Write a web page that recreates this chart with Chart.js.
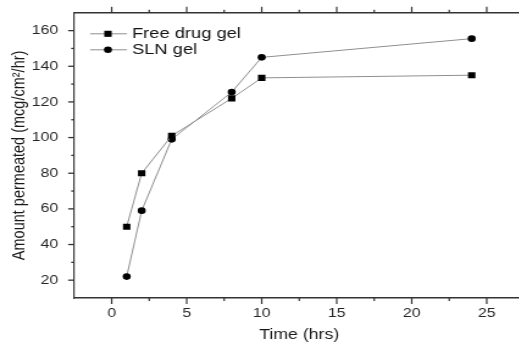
<!DOCTYPE html>
<html><head><meta charset="utf-8">
<script src="https://cdn.jsdelivr.net/npm/chart.js@4"></script>
<style>
html,body{margin:0;padding:0;overflow:hidden;background:#fff;width:519px;height:345px;}
#wrap{position:absolute;left:0;top:0;transform-origin:0 0;transform:scaleX(1.22);}
canvas{display:block;}
</style></head><body>
<div id="wrap"><canvas id="c" width="436" height="345"></canvas></div>
<script>
const timeHrs = [1, 2, 4, 8, 10, 24];
const freeDrugGel = [50, 80, 101, 122, 133.5, 135];
const slnGel = [22, 59, 99, 125.5, 145, 155.5];
const seriesNames = ['Free drug gel', 'SLN gel'];
const xTickLabels = ['0', '5', '10', '15', '20', '25'];
const yTickLabels = ['20', '40', '60', '80', '100', '120', '140', '160'];
const xTitle = 'Time (hrs)';
const yTitle = 'Amount permeated (mcg/cm\u00B2/hr)';

const SX = 1.22;
const FONT = '"Liberation Sans", Arial, sans-serif';

function pts(xs, ys) { return xs.map((x, i) => ({x: x, y: ys[i]})); }

const tickPlugin = {
  id: 'axisTicks',
  afterDraw(chart) {
    const ctx = chart.ctx;
    ctx.save();
    ctx.strokeStyle = '#333';
    ['x', 'xTop'].forEach(id => {
      const s = chart.scales[id];
      ctx.lineWidth = 1.2;
      s.ticks.forEach(t => {
        const px = s.getPixelForValue(t.value);
        if (px <= s.left + 1 || px >= s.right - 1) return;
        const major = xTickLabels.includes(String(t.value));
        const len = major ? 6 : 3;
        ctx.beginPath();
        if (id === 'x') { ctx.moveTo(px, s.top); ctx.lineTo(px, s.top + len); }
        else { ctx.moveTo(px, s.bottom); ctx.lineTo(px, s.bottom - len); }
        ctx.stroke();
      });
    });
    const y = chart.scales.y;
    ctx.lineWidth = 1.3;
    y.ticks.forEach(t => {
      const py = y.getPixelForValue(t.value);
      if (py <= y.top + 1 || py >= y.bottom - 1) return;
      const major = yTickLabels.includes(String(t.value));
      const len = (major ? 6 : 3) / SX;
      ctx.beginPath();
      ctx.moveTo(y.right, py); ctx.lineTo(y.right - len, py);
      ctx.stroke();
    });
    ctx.restore();
  }
};

const legendPlugin = {
  id: 'lineLegend',
  afterDraw(chart) {
    const ctx = chart.ctx;
    const a = chart.chartArea;
    const rows = [21, 37];
    ctx.save();
    chart.data.datasets.forEach((ds, i) => {
      const yy = a.top + rows[i];
      const x0 = a.left + 13, x1 = a.left + 43.3, xm = a.left + 27.7;
      ctx.strokeStyle = ds.borderColor;
      ctx.lineWidth = 1;
      ctx.beginPath(); ctx.moveTo(x0, yy); ctx.lineTo(x1, yy); ctx.stroke();
      ctx.fillStyle = ds.pointBackgroundColor;
      ctx.beginPath();
      if (ds.pointStyle === 'rect') {
        const h = ds.pointRadius * Math.SQRT1_2;
        ctx.rect(xm - h, yy - h, 2 * h, 2 * h);
      } else {
        ctx.arc(xm, yy, ds.pointRadius, 0, Math.PI * 2);
      }
      ctx.fill();
      ctx.fillStyle = '#111';
      ctx.font = '15px ' + FONT;
      ctx.textBaseline = 'middle';
      ctx.textAlign = 'left';
      ctx.fillText(ds.label, a.left + 47.4, yy + 0.5);
    });
    ctx.restore();
  }
};

new Chart(document.getElementById('c'), {
  type: 'line',
  data: {
    datasets: [
      {
        label: seriesNames[0],
        data: pts(timeHrs, freeDrugGel),
        borderColor: '#8f8f8f', borderWidth: 1,
        pointStyle: 'rect', pointRadius: 4.3,
        pointBackgroundColor: '#000', pointBorderColor: '#000', pointBorderWidth: 0,
        xAxisID: 'x', yAxisID: 'y', tension: 0
      },
      {
        label: seriesNames[1],
        data: pts(timeHrs, slnGel),
        borderColor: '#8f8f8f', borderWidth: 1,
        pointStyle: 'circle', pointRadius: 3.3,
        pointBackgroundColor: '#000', pointBorderColor: '#000', pointBorderWidth: 0,
        xAxisID: 'x', yAxisID: 'y', tension: 0
      }
    ]
  },
  options: {
    responsive: false,
    animation: false,
    devicePixelRatio: 1,
    layout: {padding: {left: 0, right: 6.3, top: 0, bottom: 0}},
    plugins: {legend: {display: false}, tooltip: {enabled: false}},
    scales: {
      x: {
        type: 'linear', position: 'bottom', min: -2.5, max: 27.5,
        ticks: {
          stepSize: 2.5, autoSkip: false, maxRotation: 0, padding: 0, color: '#262626',
          font: {size: 13, family: FONT},
          callback: v => xTickLabels.includes(String(v)) ? String(v) : ''
        },
        grid: {display: false},
        border: {display: true, color: '#333', width: 1.5},
        title: {display: true, text: xTitle, color: '#1a1a1a', font: {size: 14.5, family: FONT}, padding: {top: 0, bottom: 1}},
        afterFit(s) { s.height = 47; }
      },
      xTop: {
        type: 'linear', position: 'top', min: -2.5, max: 27.5,
        ticks: {display: false, stepSize: 2.5},
        grid: {display: false},
        border: {display: true, color: '#333', width: 1.5},
        afterFit(s) { s.height = 12; }
      },
      y: {
        type: 'linear', position: 'left', min: 10, max: 170,
        ticks: {
          stepSize: 10, autoSkip: false, padding: 5, color: '#262626',
          font: {size: 13, family: FONT},
          callback: v => yTickLabels.includes(String(v)) ? String(v) : ''
        },
        grid: {display: false},
        border: {display: true, color: '#333', width: 1.2},
        title: {display: true, text: yTitle, color: '#1a1a1a', font: {size: 14.5, family: FONT}, padding: {top: 7.5, bottom: 0}},
        afterFit(s) { s.width = 60.8; }
      }
    }
  },
  plugins: [tickPlugin, legendPlugin]
});
</script>
</body></html>
